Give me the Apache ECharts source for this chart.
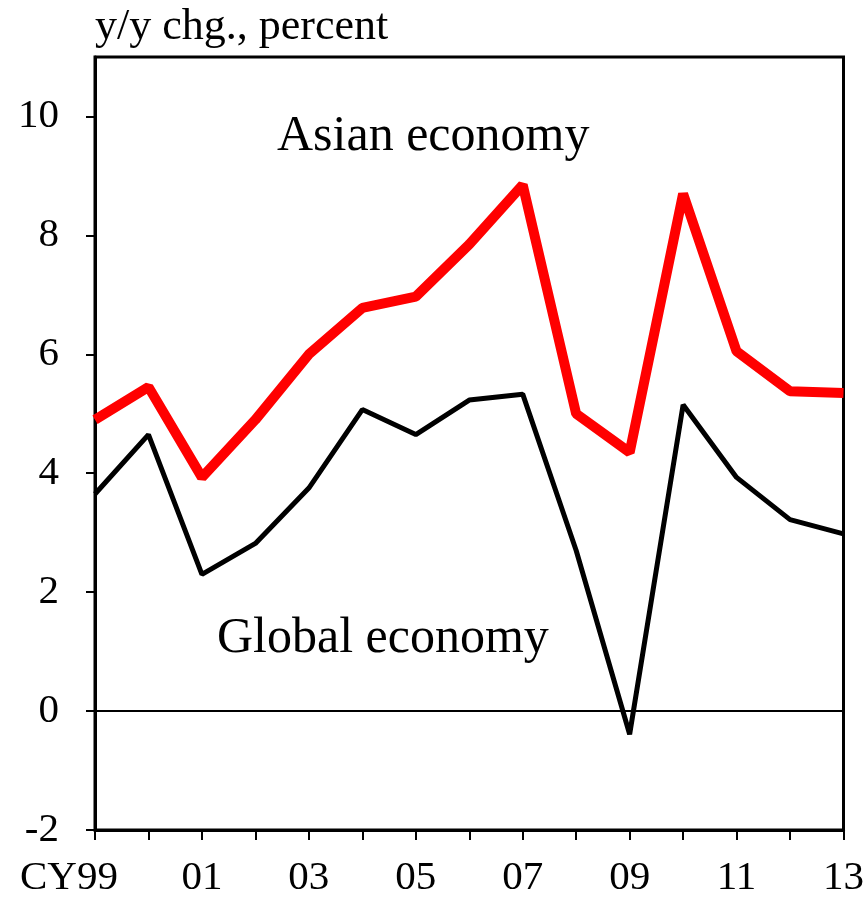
<!DOCTYPE html>
<html>
<head>
<meta charset="utf-8">
<script src="https://cdn.jsdelivr.net/npm/echarts@6/dist/echarts.min.js"></script>
<style>
  html, body { margin: 0; padding: 0; background: #fff; }
  #chart { width: 867px; height: 903px; }
</style>
</head>
<body>
<div id="chart"></div>
<script>
// years along the x axis (CY1999 - CY2013)
let years = ['99', '00', '01', '02', '03', '04', '05', '06', '07', '08', '09', '10', '11', '12', '13'];
// real GDP growth, y/y % chg.
let asian = [4.9, 5.45, 3.93, 4.9, 6.0, 6.78, 6.97, 7.85, 8.85, 5.0, 4.35, 8.7, 6.05, 5.38, 5.35];
let globalEco = [3.65, 4.65, 2.3, 2.82, 3.75, 5.07, 4.65, 5.23, 5.33, 2.7, -0.39, 5.15, 3.93, 3.22, 2.98];
let yTicks = [-2, 0, 2, 4, 6, 8, 10];

const FONT = '"Liberation Serif", "DejaVu Serif", serif';

let chart = echarts.init(document.getElementById('chart'));

let option = {
  animation: false,
  grid: {
    left: 95,
    right: 22,
    top: 57,
    bottom: 73,
    show: true,
    borderColor: '#000',
    borderWidth: 3,
  },
  title: {
    text: 'y/y chg., percent',
    left: 90,
    top: 0,
    textStyle: { fontFamily: FONT, fontSize: 44, fontWeight: 'normal', color: '#000' },
  },
  xAxis: {
    type: 'category',
    data: years,
    boundaryGap: false,
    axisLine: { onZero: false, lineStyle: { color: '#000', width: 3 } },
    axisTick: { interval: 0, length: 10, lineStyle: { color: '#000', width: 2 } },
    axisLabel: {
      interval: 1,
      margin: 28,
      color: '#000',
      fontFamily: FONT,
      fontSize: 41,
      formatter: (v, i) => (i === 0 ? '{cy|CY' + v + '}' : v),
      rich: {
        cy: { fontFamily: FONT, fontSize: 41, color: '#000', padding: [0, 52, 0, 0] },
      },
    },
    splitLine: { show: false },
  },
  yAxis: {
    type: 'value',
    min: -2,
    max: 11,
    interval: 2,
    axisLine: { show: true, lineStyle: { color: '#000', width: 3 } },
    axisTick: { show: true, length: 9, customValues: yTicks, lineStyle: { color: '#000', width: 2 } },
    axisLabel: {
      customValues: yTicks,
      margin: 36,
      color: '#000',
      fontFamily: FONT,
      fontSize: 41,
    },
    splitLine: { show: false },
  },
  series: [
    {
      name: 'Global economy',
      type: 'line',
      data: globalEco,
      symbol: 'none',
      lineStyle: { color: '#000', width: 5 },
      z: 3,
      markLine: {
        silent: true,
        symbol: 'none',
        label: { show: false },
        lineStyle: { color: '#000', width: 2, type: 'solid' },
        data: [{ yAxis: 0 }],
      },
    },
    {
      name: 'Asian economy',
      type: 'line',
      data: asian,
      symbol: 'none',
      lineStyle: { color: '#ff0000', width: 10 },
      z: 4,
    },
  ],
  graphic: [
    {
      type: 'text',
      left: 277,
      top: 112,
      style: { text: 'Asian economy', font: '50px ' + FONT, fill: '#000' },
    },
    {
      type: 'text',
      left: 217,
      top: 614,
      style: { text: 'Global economy', font: '50px ' + FONT, fill: '#000' },
    },
  ],
};

chart.setOption(option);
</script>
</body>
</html>
